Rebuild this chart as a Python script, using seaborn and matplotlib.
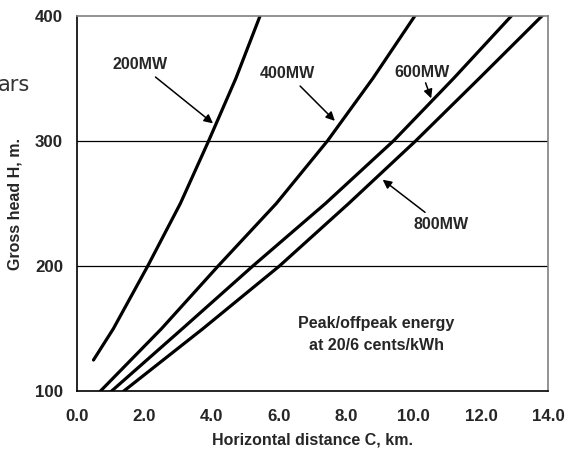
import matplotlib
matplotlib.use("Agg")
import matplotlib.pyplot as plt
import seaborn as sns
import pandas as pd

# ---- data ----
x_200 = [0.49, 1.08, 2.10, 3.07, 3.91, 4.72, 5.44]
h_200 = [125, 150, 200, 250, 300, 350, 400]
x_400 = [0.69, 2.51, 4.19, 5.92, 7.44, 8.79, 10.04]
h_400 = [100, 150, 200, 250, 300, 350, 400]
x_600 = [1.02, 3.13, 5.22, 7.38, 9.40, 11.19, 12.91]
h_600 = [100, 150, 200, 250, 300, 350, 400]
x_800 = [1.38, 3.74, 6.01, 8.07, 10.06, 11.95, 13.82]
h_800 = [100, 150, 200, 250, 300, 350, 400]
series_names = ["200MW", "400MW", "600MW", "800MW"]
x_ticks = [0, 2, 4, 6, 8, 10, 12, 14]
y_ticks = [100, 200, 300, 400]

frames = []
for name, xs, hs in zip(series_names, [x_200, x_400, x_600, x_800],
                        [h_200, h_400, h_600, h_800]):
    frames.append(pd.DataFrame({"C": xs, "H": hs, "series": name}))
df = pd.concat(frames, ignore_index=True)

sns.set_style("white")
plt.rcParams["font.family"] = ["Liberation Sans", "DejaVu Sans"]

fig = plt.figure(figsize=(5.66, 4.5), dpi=100)
ax = fig.add_axes([77 / 566, (450 - 391.3) / 450, (548.3 - 77) / 566, (391.3 - 15.7) / 450])

sns.lineplot(data=df, x="C", y="H", hue="series", palette=["black"] * 4,
             linewidth=2.3, legend=False, sort=False, estimator=None, ax=ax)
for ln in ax.lines:
    ln.set_solid_joinstyle("round")
    ln.set_solid_capstyle("round")

ax.set_xlim(0, 14)
ax.set_ylim(100, 400)
ax.set_xticks(x_ticks)
ax.set_xticklabels([f"{v:.1f}" for v in x_ticks])
ax.set_yticks(y_ticks)
ax.set_yticklabels([str(v) for v in y_ticks])
ax.tick_params(axis="both", direction="out", length=5, width=1, color="black",
               labelsize=12.2)
ax.tick_params(axis="x", pad=8)
ax.tick_params(axis="y", pad=5)
for lab in ax.get_xticklabels() + ax.get_yticklabels():
    lab.set_fontweight("bold")

for y in [200, 300]:
    ax.axhline(y, color="black", linewidth=0.9, zorder=0)

for side in ["left", "bottom"]:
    ax.spines[side].set_color("black")
    ax.spines[side].set_linewidth(1.2)
    ax.spines[side].set_visible(True)
for side in ["top", "right"]:
    ax.spines[side].set_color("#808080")
    ax.spines[side].set_linewidth(1.2)
    ax.spines[side].set_visible(True)

ax.set_xlabel("Horizontal distance C, km.", fontsize=11.5, fontweight="bold", labelpad=6)
ax.set_ylabel("Gross head H, m.", fontsize=11.5, fontweight="bold", labelpad=9)

arrow = dict(arrowstyle="-|>", color="black", lw=1.1, mutation_scale=13,
             shrinkA=2, shrinkB=0)
fs = 11.5
ax.annotate("200MW", xy=(4.04, 314), xytext=(1.87, 361), ha="center", va="center",
            fontsize=fs, fontweight="bold", arrowprops=arrow)
ax.annotate("400MW", xy=(7.66, 316), xytext=(6.25, 354), ha="center", va="center",
            fontsize=fs, fontweight="bold", arrowprops=arrow)
ax.annotate("600MW", xy=(10.52, 334), xytext=(10.24, 355), ha="center", va="center",
            fontsize=fs, fontweight="bold",
            arrowprops=dict(arrowstyle="-|>", color="black", lw=1.1, mutation_scale=13,
                            shrinkA=0, shrinkB=0))
ax.annotate("800MW", xy=(9.08, 269), xytext=(10.82, 233), ha="center", va="center",
            fontsize=fs, fontweight="bold", arrowprops=arrow)

ax.text(8.9, 145.5, "Peak/offpeak energy\nat 20/6 cents/kWh", ha="center", va="center",
        fontsize=fs, fontweight="bold", linespacing=1.55)

fig.text(-2, 450 - 85, "ars", transform=None, fontsize=15, color="#333333",
         family="DejaVu Sans", va="center", ha="left")

fig.savefig("out.png", dpi=100)
